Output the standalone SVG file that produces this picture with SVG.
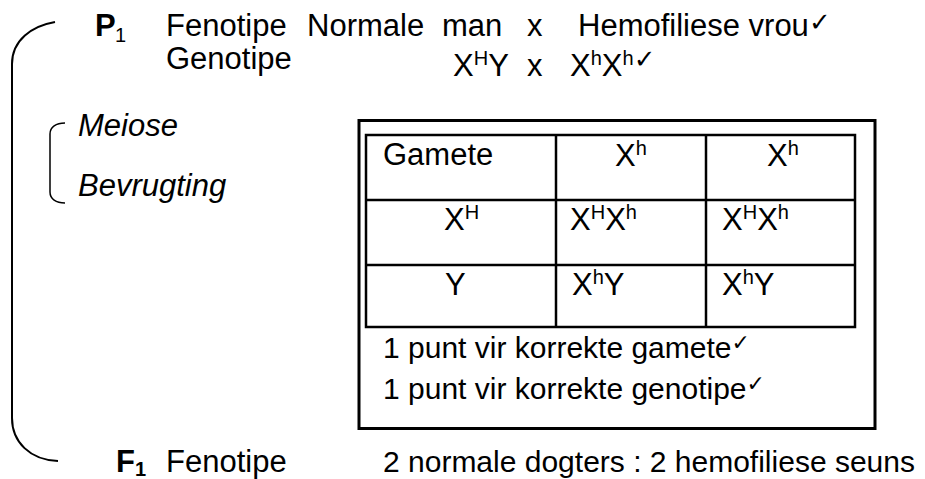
<svg xmlns="http://www.w3.org/2000/svg" width="925" height="479" viewBox="0 0 925 479">
<style>
text{font-family:"Liberation Sans",Arial,sans-serif;font-size:31px;fill:#000}
.b{font-weight:bold}
.i{font-style:italic}
.sup{font-size:20px}
.sub{font-size:20px}
.chk{font-family:"DejaVu Sans",sans-serif;font-size:26px}
.ln{fill:none;stroke:#000;stroke-width:2}
.grid{fill:none;stroke:#000;stroke-width:2.5}
</style>
<rect width="925" height="479" fill="#fff"/>
<g id="connectors">
 <path class="ln" d="M55 22 C32 26 12 40 12 64 L12 418 C12 442 30 460 58 461"/>
 <path class="ln" style="stroke-width:1.5" d="M65 123 C56 123 50 127 50 134 L50 192 C50 199 56 203 65 203"/>
</g>
<g id="p1">
 <text x="95" y="36" class="b">P</text><text x="115" y="42" class="sub">1</text>
 <text x="166" y="36">Fenotipe</text>
 <text x="307" y="36">Normale</text>
 <text x="442" y="36">man</text>
 <text x="527" y="36">x</text>
 <text x="578" y="36">Hemofiliese vrou<tspan class="chk" dy="-5">✓</tspan></text>
 <text x="166" y="69">Genotipe</text>
 <text x="453" y="76">X<tspan class="sup" dy="-11">H</tspan><tspan dy="11">Y</tspan></text>
 <text x="527" y="76">x</text>
 <text x="570" y="76">X<tspan class="sup" dy="-11">h</tspan><tspan dy="11">X</tspan><tspan class="sup" dy="-11">h</tspan><tspan class="chk" dy="3">✓</tspan></text>
</g>
<g id="process">
 <text x="78" y="136" class="i">Meiose</text>
 <text x="78" y="196" class="i">Bevrugting</text>
</g>
<g id="punnett">
 <rect x="359" y="120.5" width="516" height="308" fill="none" stroke="#000" stroke-width="3"/>
 <rect x="366" y="135" width="489" height="192" class="grid"/>
 <line class="grid" x1="556" y1="135" x2="556" y2="327"/>
 <line class="grid" x1="706" y1="135" x2="706" y2="327"/>
 <line class="grid" x1="366" y1="200" x2="855" y2="200"/>
 <line class="grid" x1="366" y1="265" x2="855" y2="265"/>
 <text x="383" y="165">Gamete</text>
 <text x="615" y="166">X<tspan class="sup" dy="-11">h</tspan></text>
 <text x="767" y="166">X<tspan class="sup" dy="-11">h</tspan></text>
 <text x="444" y="230">X<tspan class="sup" dy="-11">H</tspan></text>
 <text x="570" y="230">X<tspan class="sup" dy="-11">H</tspan><tspan dy="11">X</tspan><tspan class="sup" dy="-11">h</tspan></text>
 <text x="722" y="230">X<tspan class="sup" dy="-11">H</tspan><tspan dy="11">X</tspan><tspan class="sup" dy="-11">h</tspan></text>
 <text x="445" y="295">Y</text>
 <text x="572" y="295">X<tspan class="sup" dy="-11">h</tspan><tspan dy="11">Y</tspan></text>
 <text x="722" y="295">X<tspan class="sup" dy="-11">h</tspan><tspan dy="11">Y</tspan></text>
 <text x="383" y="358" style="font-size:30px">1 punt vir korrekte gamete<tspan class="chk" style="font-size:22px" dy="-8">✓</tspan></text>
 <text x="383" y="399" style="font-size:30px">1 punt vir korrekte genotipe<tspan class="chk" style="font-size:22px" dy="-8">✓</tspan></text>
</g>
<g id="f1">
 <text x="116" y="472" class="b">F<tspan class="sub" dy="4">1</tspan></text>
 <text x="166" y="472">Fenotipe</text>
 <text x="383" y="472" style="font-size:30px">2 normale dogters : 2 hemofiliese seuns</text>
</g>
</svg>
